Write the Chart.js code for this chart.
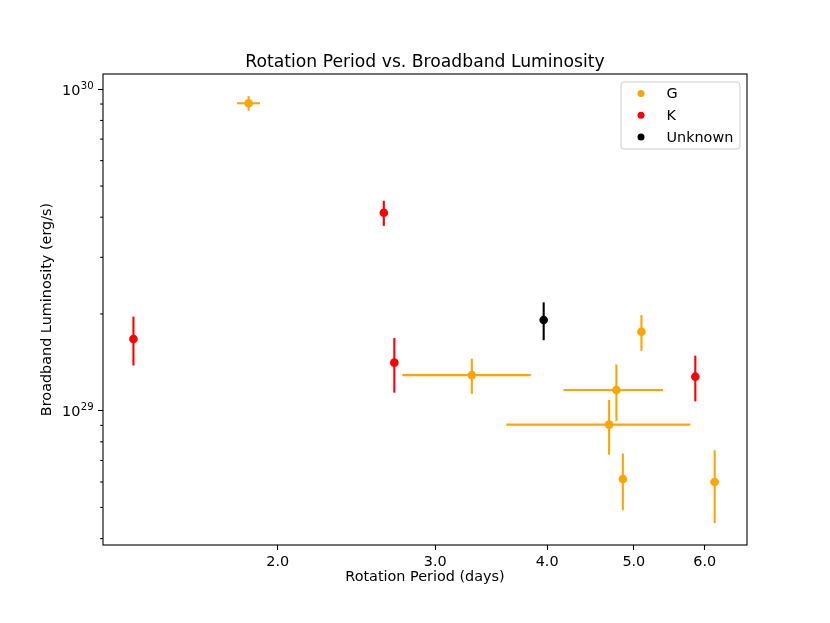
<!DOCTYPE html>
<html>
<head>
<meta charset="utf-8">
<script src="https://cdn.jsdelivr.net/npm/chart.js@4.4.1/dist/chart.umd.min.js"></script>
<style>
  html, body { margin: 0; padding: 0; background: white; }
  canvas { display: block; }
</style>
</head>
<body>
<canvas id="lumChart" width="830" height="623"></canvas>
<script>
// values
var gPeriod = [1.856, 3.296, 5.099, 4.781, 4.692, 4.861, 6.156];
var gPeriodErr = [0.055, 0.54, 0, 0.61, 1.09, 0, 0.07];
var gLum = [9.05e29, 1.29e29, 1.76e29, 1.16e29, 9.05e28, 6.13e28, 6.00e28];
var gLumErr = [0.475e29, 0.162e29, 0.224e29, 0.232e29, 0.175e29, 0.123e29, 0.153e29];

var kPeriod = [1.380, 2.628, 2.700, 5.857];
var kPeriodErr = [0, 0, 0, 0];
var kLum = [1.672e29, 4.13e29, 1.411e29, 1.276e29];
var kLumErr = [0.29e29, 0.37e29, 0.273e29, 0.207e29];

var uPeriod = [3.965];
var uPeriodErr = [0];
var uLum = [1.915e29];
var uLumErr = [0.258e29];

var xTicks = [2, 3, 4, 5, 6];
var yTicks = [1e29, 1e30];
var yMinorTicks = [4e28, 5e28, 6e28, 7e28, 8e28, 9e28, 2e29, 3e29, 4e29, 5e29, 6e29, 7e29, 8e29, 9e29];

var FONT = 'DejaVu Sans';
var titleText = 'Rotation Period vs. Broadband Luminosity';

function points(xs, ys) {
	return xs.map(function (x, i) { return { x: x, y: ys[i] }; });
}

// error bars, drawn under the markers
var errorBars = {
	id: 'errorBars',
	beforeDatasetsDraw: function (chart) {
		var ctx = chart.ctx;
		var xs = chart.scales.x, ys = chart.scales.y;
		ctx.save();
		chart.data.datasets.forEach(function (ds) {
			ctx.strokeStyle = ds.backgroundColor;
			ctx.lineWidth = 2.1;
			ds.data.forEach(function (p, i) {
				var px = xs.getPixelForValue(p.x);
				var py = ys.getPixelForValue(p.y);
				var ye = ds.yErr[i], xe = ds.xErr[i];
				if (ye) {
					ctx.beginPath();
					ctx.moveTo(px, ys.getPixelForValue(p.y - ye));
					ctx.lineTo(px, ys.getPixelForValue(p.y + ye));
					ctx.stroke();
				}
				if (xe) {
					ctx.beginPath();
					ctx.moveTo(xs.getPixelForValue(p.x - xe), py);
					ctx.lineTo(xs.getPixelForValue(p.x + xe), py);
					ctx.stroke();
				}
			});
		});
		ctx.restore();
	}
};

// title, frame, minor ticks, 10^n labels and the legend box
var frameAndLegend = {
	id: 'frameAndLegend',
	afterDraw: function (chart) {
		var ctx = chart.ctx;
		var a = chart.chartArea;
		var ys = chart.scales.y;
		ctx.save();

		// title centred over the axes
		ctx.fillStyle = 'black';
		ctx.font = '17.2px "' + FONT + '"';
		ctx.textAlign = 'center';
		ctx.textBaseline = 'alphabetic';
		ctx.fillText(titleText, (a.left + a.right) / 2, 66.7);

		ctx.strokeStyle = 'black';
		ctx.lineWidth = 1.1;
		yMinorTicks.forEach(function (v) {
			var py = ys.getPixelForValue(v);
			ctx.beginPath();
			ctx.moveTo(a.left, py);
			ctx.lineTo(a.left - 2.8, py);
			ctx.stroke();
		});
		ctx.strokeRect(a.left, a.top, a.right - a.left, a.bottom - a.top);

		// y tick labels as 10 with a raised exponent
		ctx.textAlign = 'left';
		yTicks.forEach(function (v) {
			var py = ys.getPixelForValue(v);
			var exp = String(Math.round(Math.log10(v)));
			ctx.font = '14.4px "' + FONT + '"';
			var wBase = ctx.measureText('10').width;
			ctx.font = '10.1px "' + FONT + '"';
			var wExp = ctx.measureText(exp).width;
			var x0 = a.left - 9.8 - wBase - wExp;
			ctx.font = '14.4px "' + FONT + '"';
			ctx.fillText('10', x0, py + 5.3);
			ctx.font = '10.1px "' + FONT + '"';
			ctx.fillText(exp, x0 + wBase + 0.5, py - 0.3);
		});

		// legend
		var bx = 621, by = 82, bw = 119, bh = 67, r = 3;
		ctx.beginPath();
		ctx.moveTo(bx + r, by);
		ctx.arcTo(bx + bw, by, bx + bw, by + bh, r);
		ctx.arcTo(bx + bw, by + bh, bx, by + bh, r);
		ctx.arcTo(bx, by + bh, bx, by, r);
		ctx.arcTo(bx, by, bx + bw, by, r);
		ctx.closePath();
		ctx.fillStyle = 'rgba(255,255,255,0.8)';
		ctx.fill();
		ctx.strokeStyle = '#cccccc';
		ctx.lineWidth = 1;
		ctx.stroke();

		ctx.font = '14.4px "' + FONT + '"';
		ctx.textAlign = 'left';
		ctx.textBaseline = 'middle';
		chart.data.datasets.forEach(function (ds, i) {
			var cy = 93.5 + i * 21.7;
			ctx.fillStyle = ds.backgroundColor;
			ctx.beginPath();
			ctx.arc(641, cy, 3.5, 0, Math.PI * 2);
			ctx.fill();
			ctx.fillStyle = 'black';
			ctx.fillText(ds.label, 666.5, cy + 1);
		});
		ctx.restore();
	}
};

function start() {
	var ctx = document.getElementById('lumChart').getContext('2d');
	var lumChart = new Chart(ctx, {
		type: 'scatter',
		data: {
			datasets: [{
				label: 'G',
				data: points(gPeriod, gLum),
				xErr: gPeriodErr,
				yErr: gLumErr,
				backgroundColor: '#FFA500'
			}, {
				label: 'K',
				data: points(kPeriod, kLum),
				xErr: kPeriodErr,
				yErr: kLumErr,
				backgroundColor: '#FF0000'
			}, {
				label: 'Unknown',
				data: points(uPeriod, uLum),
				xErr: uPeriodErr,
				yErr: uLumErr,
				backgroundColor: '#000000'
			}]
		},
		options: {
			responsive: false,
			animation: false,
			devicePixelRatio: 1,
			layout: {
				padding: { left: 38.7, right: 83, top: 74, bottom: 37.2 }
			},
			elements: {
				point: { radius: 4.3, borderWidth: 0, hoverRadius: 4.3 }
			},
			plugins: {
				legend: { display: false },
				tooltip: { enabled: false },
				title: { display: false }
			},
			scales: {
				x: {
					type: 'logarithmic',
					min: 1.276,
					max: 6.69,
					bounds: 'data',
					grid: { display: true, drawOnChartArea: false, drawTicks: true, tickLength: 5, tickColor: 'black', tickWidth: 1.1 },
					border: { display: false },
					afterBuildTicks: function (scale) {
						scale.ticks = xTicks.map(function (v) { return { value: v }; });
					},
					afterFit: function (scale) {
						scale.height = 40.8;
						scale.paddingLeft = 0;
						scale.paddingRight = 0;
					},
					ticks: {
						autoSkip: false,
						maxRotation: 0,
						padding: 4,
						color: 'black',
						font: { family: FONT, size: 14.4 },
						callback: function (value) { return Number(value).toFixed(1); }
					},
					title: {
						display: true,
						text: 'Rotation Period (days)',
						color: 'black',
						font: { family: FONT, size: 14.4 },
						padding: 0
					}
				},
				y: {
					type: 'logarithmic',
					min: 3.82e28,
					max: 1.116e30,
					bounds: 'data',
					grid: { display: true, drawOnChartArea: false, drawTicks: true, tickLength: 5, tickColor: 'black', tickWidth: 1.1 },
					border: { display: false },
					afterBuildTicks: function (scale) {
						scale.ticks = yTicks.map(function (v) { return { value: v }; });
					},
					afterFit: function (scale) {
						scale.width = 103 - 38.7;
						scale.paddingTop = 0;
						scale.paddingBottom = 0;
					},
					ticks: {
						autoSkip: false,
						padding: 4,
						color: 'black',
						font: { family: FONT, size: 14.4 },
						// drawn by the plugin with a raised exponent
						callback: function () { return ''; }
					},
					title: {
						display: true,
						text: 'Broadband Luminosity (erg/s)',
						color: 'black',
						font: { family: FONT, size: 14.4 },
						padding: 0
					}
				}
			}
		},
		plugins: [errorBars, frameAndLegend]
	});
}

window.onload = start;
</script>
</body>
</html>
